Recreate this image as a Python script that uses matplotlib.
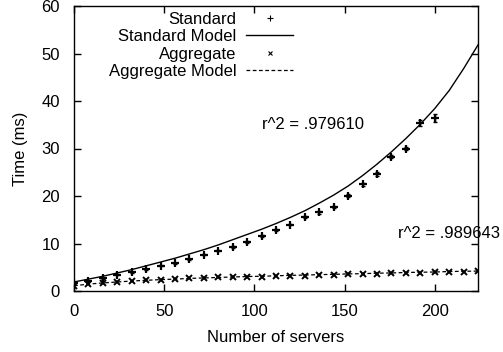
import numpy as np
import matplotlib.pyplot as plt

plt.rcParams["font.family"] = ["Liberation Sans", "DejaVu Sans"]
plt.rcParams["font.size"] = 12

# Measured times (ms) against number of servers
servers_std = np.arange(0, 201, 8)
time_std = [1.6, 2.1, 2.7, 3.4, 3.9, 4.6, 5.3, 5.8, 6.7, 7.6, 8.5, 9.3, 10.4,
            11.6, 12.8, 14.0, 15.5, 16.6, 17.7, 20.1, 22.5, 24.6, 28.3, 30.0,
            35.3, 36.4]
err_std = [0.1, 0.1, 0.1, 0.1, 0.1, 0.1, 0.1, 0.1, 0.1, 0.1, 0.15, 0.15, 0.2,
           0.2, 0.2, 0.2, 0.2, 0.3, 0.3, 0.3, 0.3, 0.4, 0.4, 0.4, 0.6, 0.8]

servers_agg = np.arange(0, 225, 8)
time_agg = [1.1, 1.5, 1.7, 1.9, 2.1, 2.3, 2.4, 2.5, 2.7, 2.8, 2.9, 2.9, 3.0,
            3.0, 3.1, 3.1, 3.2, 3.3, 3.3, 3.5, 3.5, 3.6, 3.7, 3.8, 3.8, 3.9,
            4.0, 4.1, 4.2]

# Fitted model curves, sampled on the same server grid
model_x = np.arange(0, 225, 8)
model_std = [1.9, 2.5, 3.1, 3.8, 4.5, 5.3, 6.1, 6.9, 7.8, 8.7, 9.7, 10.8,
             11.9, 13.0, 14.2, 15.5, 16.9, 18.5, 20.2, 22.1, 24.3, 26.7, 29.3,
             32.1, 35.1, 38.4, 42.2, 46.8, 51.8]
model_agg = [1.1, 1.45, 1.7, 1.9, 2.1, 2.25, 2.4, 2.5, 2.65, 2.75, 2.85, 2.95,
             3.05, 3.1, 3.2, 3.3, 3.35, 3.45, 3.5, 3.6, 3.65, 3.75, 3.8, 3.9,
             3.95, 4.0, 4.1, 4.15, 4.2]

r2_std = ".979610"
r2_agg = ".989643"

fig = plt.figure(figsize=(5.03, 3.52), dpi=100)
ax = fig.add_axes([74 / 503, 1 - 291 / 352, 404 / 503, 285 / 352])

ax.errorbar(servers_std, time_std, yerr=err_std, fmt="none", ecolor="black",
            elinewidth=1, capsize=1.5)
h_std, = ax.plot(servers_std, time_std, "+", color="black", ms=6, mew=1.6)
h_std_model, = ax.plot(model_x, model_std, "-", color="black", lw=1)
h_agg, = ax.plot(servers_agg, time_agg, "x", color="black", ms=4.5, mew=1.4)
h_agg_model, = ax.plot(model_x, model_agg, color="black", lw=0.9,
                       linestyle=(0, (3, 2)))

ax.text(104, 35.0, "r^2 = " + r2_std, ha="left", va="center")
ax.text(179.5, 12.2, "r^2 = " + r2_agg, ha="left", va="center")

ax.set_xlim(0, 224)
ax.set_ylim(0, 60)
ax.set_xticks([0, 50, 100, 150, 200])
ax.set_yticks([0, 10, 20, 30, 40, 50, 60])
ax.tick_params(direction="in", length=5, width=1, top=True, right=True)
ax.tick_params(axis="x", pad=9)
ax.tick_params(axis="y", pad=10)
for s in ax.spines.values():
    s.set_linewidth(1)
ax.set_xlabel("Number of servers", labelpad=8)
ax.set_ylabel("Time (ms)", labelpad=10)

# Legend entries use small markers like the gnuplot key
k_std, = ax.plot([], [], "+", color="black", ms=4, mew=0.8)
k_agg, = ax.plot([], [], "x", color="black", ms=3.5, mew=0.8)
ax.legend([k_std, h_std_model, k_agg, h_agg_model],
          ["Standard", "Standard Model", "Aggregate", "Aggregate Model"],
          loc="upper right", bbox_to_anchor=((293 - 74) / 404, 0.98),
          frameon=False, markerfirst=False, handlelength=2.8,
          handletextpad=0.6, labelspacing=0.15, borderpad=0,
          borderaxespad=0)

fig.savefig("out.png", dpi=100)
